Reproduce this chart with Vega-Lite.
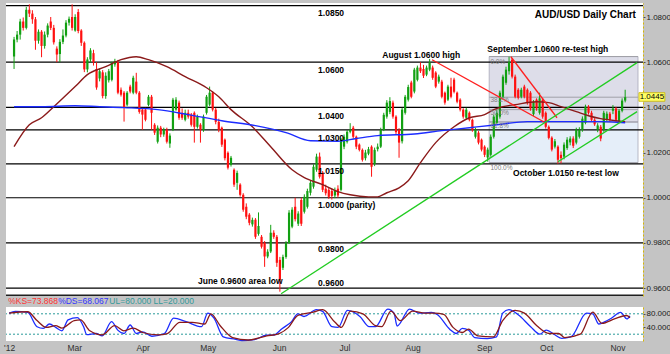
{
"$schema":"https://vega.github.io/schema/vega-lite/v6.json",
"background":"#c4c4c4",
"padding":{"left":3,"top":3,"right":0,"bottom":0},
"config":{"view":{"stroke":null,"fill":"#ffffff"},"font":"Liberation Sans"},
"datasets":{
"candles":[
{"i":0,"o":1.0625,"h":1.0712,"l":1.057,"c":1.07},{"i":1,"o":1.07,"h":1.0738,"l":1.0688,"c":1.0722},{"i":2,"o":1.0722,"h":1.0792,"l":1.07,"c":1.078},{"i":3,"o":1.078,"h":1.0798,"l":1.074,"c":1.0752},{"i":4,"o":1.0752,"h":1.0845,"l":1.0745,"c":1.0832},{"i":5,"o":1.0832,"h":1.0856,"l":1.08,"c":1.0815},{"i":6,"o":1.0815,"h":1.083,"l":1.077,"c":1.079},{"i":7,"o":1.079,"h":1.08,"l":1.0655,"c":1.0695},{"i":8,"o":1.0695,"h":1.0745,"l":1.0682,"c":1.0735},{"i":9,"o":1.0735,"h":1.0742,"l":1.0622,"c":1.0672},
{"i":10,"o":1.0672,"h":1.0736,"l":1.066,"c":1.0722},{"i":11,"o":1.0722,"h":1.0772,"l":1.071,"c":1.0762},{"i":12,"o":1.078,"h":1.08,"l":1.0742,"c":1.0752},{"i":13,"o":1.0752,"h":1.0765,"l":1.0678,"c":1.0688},{"i":14,"o":1.066,"h":1.067,"l":1.06,"c":1.0634},{"i":15,"o":1.0636,"h":1.0702,"l":1.06,"c":1.069},{"i":16,"o":1.069,"h":1.0745,"l":1.068,"c":1.0718},{"i":17,"o":1.0718,"h":1.0786,"l":1.071,"c":1.0775},{"i":18,"o":1.0775,"h":1.0802,"l":1.0762,"c":1.0792},{"i":19,"o":1.08,"h":1.0856,"l":1.074,"c":1.0752},
{"i":20,"o":1.074,"h":1.0812,"l":1.0735,"c":1.08},{"i":21,"o":1.0822,"h":1.0835,"l":1.0728,"c":1.0738},{"i":22,"o":1.074,"h":1.0746,"l":1.0672,"c":1.0686},{"i":23,"o":1.0686,"h":1.0692,"l":1.0556,"c":1.0568},{"i":24,"o":1.0568,"h":1.0622,"l":1.0555,"c":1.0612},{"i":25,"o":1.0612,"h":1.0662,"l":1.06,"c":1.0652},{"i":26,"o":1.064,"h":1.0655,"l":1.0585,"c":1.06},{"i":27,"o":1.057,"h":1.06,"l":1.0478,"c":1.0488},{"i":28,"o":1.0528,"h":1.0572,"l":1.0515,"c":1.056},{"i":29,"o":1.0555,"h":1.0565,"l":1.044,"c":1.045},
{"i":30,"o":1.045,"h":1.0555,"l":1.0438,"c":1.054},{"i":31,"o":1.052,"h":1.057,"l":1.051,"c":1.056},{"i":32,"o":1.0522,"h":1.0602,"l":1.0515,"c":1.0597},{"i":33,"o":1.059,"h":1.0615,"l":1.058,"c":1.0605},{"i":34,"o":1.06,"h":1.061,"l":1.0458,"c":1.0465},{"i":35,"o":1.0478,"h":1.0488,"l":1.0448,"c":1.0456},{"i":36,"o":1.0465,"h":1.0472,"l":1.0337,"c":1.0399},{"i":37,"o":1.0412,"h":1.0472,"l":1.0405,"c":1.0465},{"i":38,"o":1.0492,"h":1.05,"l":1.0462,"c":1.047},{"i":39,"o":1.0465,"h":1.054,"l":1.0458,"c":1.0531},
{"i":40,"o":1.0514,"h":1.0553,"l":1.0458,"c":1.0465},{"i":41,"o":1.0465,"h":1.0472,"l":1.0372,"c":1.038},{"i":42,"o":1.039,"h":1.0395,"l":1.0301,"c":1.0368},{"i":43,"o":1.039,"h":1.0398,"l":1.0338,"c":1.0345},{"i":44,"o":1.0411,"h":1.0455,"l":1.0405,"c":1.0447},{"i":45,"o":1.0447,"h":1.0455,"l":1.0301,"c":1.0376},{"i":46,"o":1.0323,"h":1.033,"l":1.0278,"c":1.0288},{"i":47,"o":1.0248,"h":1.032,"l":1.024,"c":1.031},{"i":48,"o":1.031,"h":1.0318,"l":1.0268,"c":1.028},{"i":49,"o":1.028,"h":1.031,"l":1.027,"c":1.0301},
{"i":50,"o":1.0301,"h":1.031,"l":1.024,"c":1.0248},{"i":51,"o":1.024,"h":1.0285,"l":1.0221,"c":1.0275},{"i":52,"o":1.0301,"h":1.0442,"l":1.0295,"c":1.0434},{"i":53,"o":1.039,"h":1.0445,"l":1.0385,"c":1.0434},{"i":54,"o":1.0421,"h":1.043,"l":1.0345,"c":1.0354},{"i":55,"o":1.0376,"h":1.0395,"l":1.0345,"c":1.0354},{"i":56,"o":1.0345,"h":1.039,"l":1.0338,"c":1.0376},{"i":57,"o":1.0376,"h":1.039,"l":1.035,"c":1.0359},{"i":58,"o":1.0368,"h":1.0375,"l":1.0315,"c":1.0323},{"i":59,"o":1.0376,"h":1.0382,"l":1.0244,"c":1.0314},
{"i":60,"o":1.0314,"h":1.0368,"l":1.0306,"c":1.0359},{"i":61,"o":1.0323,"h":1.033,"l":1.0244,"c":1.0301},{"i":62,"o":1.0301,"h":1.0368,"l":1.0292,"c":1.0359},{"i":63,"o":1.0376,"h":1.0455,"l":1.0368,"c":1.0447},{"i":64,"o":1.0412,"h":1.0492,"l":1.0405,"c":1.0465},{"i":65,"o":1.0465,"h":1.0472,"l":1.0382,"c":1.039},{"i":66,"o":1.039,"h":1.0398,"l":1.0325,"c":1.0336},{"i":67,"o":1.0336,"h":1.035,"l":1.029,"c":1.03},{"i":68,"o":1.031,"h":1.0315,"l":1.0225,"c":1.0235},{"i":69,"o":1.0257,"h":1.0262,"l":1.0165,"c":1.0175},
{"i":70,"o":1.0199,"h":1.0205,"l":1.0125,"c":1.0133},{"i":71,"o":1.0146,"h":1.0185,"l":1.0138,"c":1.0177},{"i":72,"o":1.0124,"h":1.013,"l":1.0048,"c":1.0058},{"i":73,"o":1.0066,"h":1.012,"l":1.0035,"c":1.011},{"i":74,"o":1.0058,"h":1.0064,"l":1.0005,"c":1.0013},{"i":75,"o":1.0013,"h":1.002,"l":0.9938,"c":0.9947},{"i":76,"o":0.996,"h":0.9975,"l":0.9905,"c":0.9916},{"i":77,"o":0.9925,"h":0.9932,"l":0.9878,"c":0.9889},{"i":78,"o":0.9882,"h":0.9912,"l":0.9872,"c":0.9902},{"i":79,"o":0.9903,"h":0.991,"l":0.9818,"c":0.9827},
{"i":80,"o":0.984,"h":0.9935,"l":0.9832,"c":0.9875},{"i":81,"o":0.9827,"h":0.9835,"l":0.9775,"c":0.9783},{"i":82,"o":0.98,"h":0.9808,"l":0.9694,"c":0.974},{"i":83,"o":0.974,"h":0.9772,"l":0.9732,"c":0.9761},{"i":84,"o":0.9762,"h":0.988,"l":0.9755,"c":0.9845},{"i":85,"o":0.9845,"h":0.9856,"l":0.9818,"c":0.9827},{"i":86,"o":0.9827,"h":0.9835,"l":0.9694,"c":0.9712},{"i":87,"o":0.9725,"h":0.9738,"l":0.9584,"c":0.9637},{"i":88,"o":0.969,"h":0.9748,"l":0.968,"c":0.9738},{"i":89,"o":0.9738,"h":0.9808,"l":0.973,"c":0.98},
{"i":90,"o":0.98,"h":0.9945,"l":0.9795,"c":0.9934},{"i":91,"o":0.9872,"h":0.9958,"l":0.9865,"c":0.9947},{"i":92,"o":0.996,"h":1.0,"l":0.9895,"c":0.9905},{"i":93,"o":0.9885,"h":0.994,"l":0.9875,"c":0.993},{"i":94,"o":0.999,"h":1.0,"l":0.9875,"c":0.9885},{"i":95,"o":0.9938,"h":1.0015,"l":0.993,"c":1.0004},{"i":96,"o":0.996,"h":1.004,"l":0.9952,"c":1.003},{"i":97,"o":1.0022,"h":1.0075,"l":1.001,"c":1.0066},{"i":98,"o":1.0049,"h":1.0148,"l":1.004,"c":1.0137},{"i":99,"o":1.0124,"h":1.0195,"l":1.0115,"c":1.0182},
{"i":100,"o":1.0182,"h":1.02,"l":1.0085,"c":1.0093},{"i":101,"o":1.011,"h":1.0118,"l":1.0025,"c":1.0035},{"i":102,"o":1.004,"h":1.0058,"l":1.001,"c":1.002},{"i":103,"o":1.0035,"h":1.0045,"l":0.9995,"c":1.0004},{"i":104,"o":1.003,"h":1.004,"l":0.9992,"c":1.0008},{"i":105,"o":1.001,"h":1.0045,"l":0.9998,"c":1.003},{"i":106,"o":1.004,"h":1.0055,"l":1.0,"c":1.001},{"i":107,"o":1.0035,"h":1.0265,"l":1.0028,"c":1.0257},{"i":108,"o":1.0226,"h":1.028,"l":1.0215,"c":1.027},{"i":109,"o":1.0248,"h":1.03,"l":1.024,"c":1.0292},
{"i":110,"o":1.0292,"h":1.033,"l":1.0285,"c":1.03},{"i":111,"o":1.031,"h":1.0318,"l":1.0262,"c":1.027},{"i":112,"o":1.027,"h":1.0275,"l":1.0215,"c":1.0226},{"i":113,"o":1.0235,"h":1.024,"l":1.0205,"c":1.0212},{"i":114,"o":1.0212,"h":1.0218,"l":1.016,"c":1.0168},{"i":115,"o":1.0175,"h":1.0212,"l":1.0165,"c":1.02},{"i":116,"o":1.0195,"h":1.0225,"l":1.0188,"c":1.0215},{"i":117,"o":1.0226,"h":1.0232,"l":1.0093,"c":1.0137},{"i":118,"o":1.015,"h":1.0222,"l":1.014,"c":1.0212},{"i":119,"o":1.0215,"h":1.024,"l":1.0205,"c":1.0226},
{"i":120,"o":1.0226,"h":1.031,"l":1.022,"c":1.03},{"i":121,"o":1.03,"h":1.0376,"l":1.0295,"c":1.0367},{"i":122,"o":1.0359,"h":1.0432,"l":1.035,"c":1.0421},{"i":123,"o":1.038,"h":1.0445,"l":1.037,"c":1.0428},{"i":124,"o":1.0421,"h":1.043,"l":1.035,"c":1.0359},{"i":125,"o":1.0359,"h":1.0365,"l":1.0282,"c":1.029},{"i":126,"o":1.03,"h":1.0308,"l":1.0177,"c":1.0244},{"i":127,"o":1.025,"h":1.0398,"l":1.024,"c":1.039},{"i":128,"o":1.0376,"h":1.0455,"l":1.0368,"c":1.0447},{"i":129,"o":1.0434,"h":1.05,"l":1.0426,"c":1.049},
{"i":130,"o":1.051,"h":1.0518,"l":1.044,"c":1.0447},{"i":131,"o":1.047,"h":1.0575,"l":1.0462,"c":1.0567},{"i":132,"o":1.0522,"h":1.0585,"l":1.0515,"c":1.0576},{"i":133,"o":1.0576,"h":1.06,"l":1.0552,"c":1.056},{"i":134,"o":1.057,"h":1.0588,"l":1.053,"c":1.054},{"i":135,"o":1.0545,"h":1.0585,"l":1.0538,"c":1.0576},{"i":136,"o":1.0567,"h":1.0614,"l":1.056,"c":1.0598},{"i":137,"o":1.0576,"h":1.0585,"l":1.0522,"c":1.0531},{"i":138,"o":1.0554,"h":1.056,"l":1.0485,"c":1.0492},{"i":139,"o":1.0514,"h":1.0545,"l":1.0505,"c":1.0536},
{"i":140,"o":1.0514,"h":1.0522,"l":1.044,"c":1.0447},{"i":141,"o":1.0465,"h":1.047,"l":1.0412,"c":1.0421},{"i":142,"o":1.0434,"h":1.05,"l":1.0428,"c":1.0492},{"i":143,"o":1.0492,"h":1.0531,"l":1.044,"c":1.0447},{"i":144,"o":1.0523,"h":1.0531,"l":1.0462,"c":1.0469},{"i":145,"o":1.0465,"h":1.047,"l":1.0418,"c":1.0425},{"i":146,"o":1.0434,"h":1.044,"l":1.0382,"c":1.039},{"i":147,"o":1.039,"h":1.0396,"l":1.035,"c":1.0359},{"i":148,"o":1.0354,"h":1.0398,"l":1.0346,"c":1.039},{"i":149,"o":1.0376,"h":1.0382,"l":1.0338,"c":1.0345},
{"i":150,"o":1.0345,"h":1.035,"l":1.0292,"c":1.0301},{"i":151,"o":1.027,"h":1.031,"l":1.0262,"c":1.0301},{"i":152,"o":1.0288,"h":1.0295,"l":1.0236,"c":1.0244},{"i":153,"o":1.0257,"h":1.0262,"l":1.0205,"c":1.0213},{"i":154,"o":1.0226,"h":1.0232,"l":1.018,"c":1.019},{"i":155,"o":1.0178,"h":1.0222,"l":1.016,"c":1.0213},{"i":156,"o":1.019,"h":1.028,"l":1.0182,"c":1.027},{"i":157,"o":1.027,"h":1.0368,"l":1.0262,"c":1.0359},{"i":158,"o":1.0332,"h":1.039,"l":1.0325,"c":1.0376},{"i":159,"o":1.0359,"h":1.0474,"l":1.035,"c":1.0465},
{"i":160,"o":1.0447,"h":1.0545,"l":1.044,"c":1.0536},{"i":161,"o":1.0509,"h":1.058,"l":1.05,"c":1.0567},{"i":162,"o":1.056,"h":1.0624,"l":1.0545,"c":1.06},{"i":163,"o":1.0611,"h":1.0618,"l":1.0528,"c":1.0536},{"i":164,"o":1.0536,"h":1.0545,"l":1.044,"c":1.0447},{"i":165,"o":1.0478,"h":1.0485,"l":1.0435,"c":1.0443},{"i":166,"o":1.0447,"h":1.0487,"l":1.044,"c":1.0478},{"i":167,"o":1.0492,"h":1.05,"l":1.044,"c":1.0447},{"i":168,"o":1.0478,"h":1.0484,"l":1.0412,"c":1.0421},{"i":169,"o":1.0465,"h":1.0472,"l":1.0385,"c":1.0395},
{"i":170,"o":1.037,"h":1.0432,"l":1.0362,"c":1.0425},{"i":171,"o":1.0434,"h":1.044,"l":1.0385,"c":1.0395},{"i":172,"o":1.0376,"h":1.0465,"l":1.0368,"c":1.044},{"i":173,"o":1.0434,"h":1.044,"l":1.035,"c":1.0359},{"i":174,"o":1.0376,"h":1.0382,"l":1.0306,"c":1.0314},{"i":175,"o":1.0314,"h":1.032,"l":1.0258,"c":1.0265},{"i":176,"o":1.0266,"h":1.0272,"l":1.0205,"c":1.0213},{"i":177,"o":1.0226,"h":1.026,"l":1.0218,"c":1.025},{"i":178,"o":1.0226,"h":1.0232,"l":1.015,"c":1.0168},{"i":179,"o":1.019,"h":1.0205,"l":1.0152,"c":1.0175},
{"i":180,"o":1.0182,"h":1.0245,"l":1.017,"c":1.0235},{"i":181,"o":1.022,"h":1.0268,"l":1.0212,"c":1.0257},{"i":182,"o":1.0245,"h":1.0272,"l":1.0232,"c":1.0262},{"i":183,"o":1.0262,"h":1.0272,"l":1.022,"c":1.023},{"i":184,"o":1.0244,"h":1.031,"l":1.0236,"c":1.0301},{"i":185,"o":1.027,"h":1.0312,"l":1.0262,"c":1.0301},{"i":186,"o":1.0301,"h":1.036,"l":1.0292,"c":1.035},{"i":187,"o":1.0332,"h":1.0412,"l":1.0325,"c":1.0403},{"i":188,"o":1.0403,"h":1.041,"l":1.0368,"c":1.0376},{"i":189,"o":1.0376,"h":1.0385,"l":1.0338,"c":1.0345},
{"i":190,"o":1.0345,"h":1.0352,"l":1.0318,"c":1.0325},{"i":191,"o":1.0301,"h":1.033,"l":1.029,"c":1.032},{"i":192,"o":1.0314,"h":1.0322,"l":1.025,"c":1.0262},{"i":193,"o":1.0301,"h":1.0385,"l":1.0292,"c":1.0376},{"i":194,"o":1.0345,"h":1.0382,"l":1.0338,"c":1.0372},{"i":195,"o":1.0372,"h":1.038,"l":1.0336,"c":1.0345},{"i":196,"o":1.0385,"h":1.041,"l":1.037,"c":1.0395},{"i":197,"o":1.0395,"h":1.0402,"l":1.0336,"c":1.0345},{"i":198,"o":1.034,"h":1.0392,"l":1.033,"c":1.0385},{"i":199,"o":1.0385,"h":1.044,"l":1.0378,"c":1.043},
{"i":200,"o":1.043,"h":1.0478,"l":1.0422,"c":1.0445}
],
"ma":[
{"s":"a","i":0,"p":1.0226},{"s":"a","i":5,"p":1.0323},{"s":"a","i":9,"p":1.0354},{"s":"a","i":13,"p":1.0403},{"s":"a","i":20,"p":1.0492},{"s":"a","i":24,"p":1.0545},{"s":"a","i":30,"p":1.058},{"s":"a","i":35,"p":1.0611},{"s":"a","i":40,"p":1.0624},{"s":"a","i":44,"p":1.0611},{"s":"a","i":50,"p":1.058},{"s":"a","i":56,"p":1.0536},{"s":"a","i":63,"p":1.0487},{"s":"a","i":67,"p":1.0447},{"s":"a","i":71,"p":1.039},{"s":"a","i":78,"p":1.0314},{"s":"a","i":84,"p":1.0226},{"s":"a","i":91,"p":1.0124},{"s":"a","i":95,"p":1.0089},{"s":"a","i":101,"p":1.0058},{"s":"a","i":106,"p":1.0027},{"s":"a","i":110,"p":1.0013},{"s":"a","i":116,"p":1.0004},{"s":"a","i":119,"p":1.0004},{"s":"a","i":122,"p":1.0022},{"s":"a","i":126,"p":1.0044},{"s":"a","i":129,"p":1.0075},{"s":"a","i":133,"p":1.0155},{"s":"a","i":138,"p":1.0244},{"s":"a","i":144,"p":1.0314},{"s":"a","i":149,"p":1.0354},{"s":"a","i":154,"p":1.0368},{"s":"a","i":157,"p":1.039},{"s":"a","i":160,"p":1.0403},{"s":"a","i":164,"p":1.0412},{"s":"a","i":171,"p":1.0425},{"s":"a","i":175,"p":1.0421},{"s":"a","i":179,"p":1.0403},{"s":"a","i":184,"p":1.0381},{"s":"a","i":188,"p":1.0363},{"s":"a","i":192,"p":1.035},{"s":"a","i":197,"p":1.0341},{"s":"a","i":200,"p":1.0337},
{"s":"b","i":0,"p":1.0403},{"s":"b","i":9,"p":1.0403},{"s":"b","i":20,"p":1.0407},{"s":"b","i":28,"p":1.0403},{"s":"b","i":36,"p":1.0399},{"s":"b","i":47,"p":1.039},{"s":"b","i":57,"p":1.0368},{"s":"b","i":68,"p":1.0341},{"s":"b","i":79,"p":1.0319},{"s":"b","i":89,"p":1.0288},{"s":"b","i":97,"p":1.0252},{"s":"b","i":106,"p":1.025},{"s":"b","i":112,"p":1.0262},{"s":"b","i":119,"p":1.0275},{"s":"b","i":131,"p":1.0282},{"s":"b","i":140,"p":1.0297},{"s":"b","i":149,"p":1.031},{"s":"b","i":158,"p":1.0323},{"s":"b","i":168,"p":1.0337},{"s":"b","i":181,"p":1.0337},{"s":"b","i":192,"p":1.0337},{"s":"b","i":200,"p":1.0332}
],
"levels":[{"p":1.085},{"p":1.06},{"p":1.04},{"p":1.03},{"p":1.015},{"p":1.0},{"p":0.98},{"p":0.96}],
"frame":[{"p":0.9568}],
"fibbox":[{"i":155.5,"i2":204.2,"p":1.0335,"p2":1.0625,"f":"#dddde9"},{"i":155.5,"i2":204.2,"p":1.0155,"p2":1.0335,"f":"#e5eef9"}],
"fiblines":[{"i":155.5,"i2":204.2,"p":1.0625},{"i":155.5,"i2":204.2,"p":1.0445},{"i":155.5,"i2":204.2,"p":1.039},{"i":155.5,"i2":204.2,"p":1.0335},{"i":155.5,"i2":204.2,"p":1.0155}],
"fiblabels":[{"i":155.9,"p":1.0602,"t":"0.0%"},{"i":155.9,"p":1.0434,"t":"38.2%"},{"i":155.9,"p":1.0376,"t":"50.0%"},{"i":155.9,"p":1.0319,"t":"61.8%"},{"i":155.9,"p":1.0133,"t":"100.0%"}],
"trend":[{"i":136.8,"p":1.0611,"i2":173.9,"p2":1.0332,"col":"#ff2020"},{"i":162.6,"p":1.0624,"i2":177.7,"p2":1.0354,"col":"#ff2020"},{"i":87.4,"p":0.9575,"i2":203.9,"p2":1.0598,"col":"#22cc22"},{"i":178,"p":1.0159,"i2":203.9,"p2":1.0381,"col":"#22cc22"}],
"labels":[{"i":99.5,"p":1.0819,"t":"1.0850"},{"i":99.5,"p":1.0567,"t":"1.0600"},{"i":99.5,"p":1.0363,"t":"1.0400"},{"i":99.5,"p":1.0266,"t":"1.0300"},{"i":99.5,"p":1.012,"t":"1.0150"},{"i":99.5,"p":0.9969,"t":"1.0000 (parity)"},{"i":99.5,"p":0.9774,"t":"0.9800"},{"i":99.5,"p":0.9624,"t":"0.9600"},{"i":60.2,"p":0.9632,"t":"June 0.9600 area low"},{"i":120.5,"p":1.0633,"t":"August 1.0600 high"},{"i":154.9,"p":1.066,"t":"September 1.0600 re-test high"},{"i":163.3,"p":1.0111,"t":"October 1.0150 re-test low"}],
"title":[{"i":170.4,"p":1.081,"t":"AUD/USD Daily Chart"}],
"tag":[{"i":204.5,"i2":213,"p":1.0427,"p2":1.0465,"t":"1.0445","im":208.75,"pm":1.0446}],
"stoch":[
{"s":"K","i":0,"v":82},{"s":"K","i":2,"v":87},{"s":"K","i":6,"v":84},{"s":"K","i":9,"v":42},{"s":"K","i":11,"v":37},{"s":"K","i":13,"v":50},{"s":"K","i":15,"v":40},{"s":"K","i":17,"v":30},{"s":"K","i":19,"v":62},{"s":"K","i":22,"v":69},{"s":"K","i":24,"v":42},{"s":"K","i":25,"v":19},{"s":"K","i":28,"v":22},{"s":"K","i":30,"v":15},{"s":"K","i":33,"v":57},{"s":"K","i":35,"v":32},{"s":"K","i":37,"v":22},{"s":"K","i":39,"v":47},{"s":"K","i":41,"v":22},{"s":"K","i":43,"v":27},{"s":"K","i":46,"v":14},{"s":"K","i":50,"v":22},{"s":"K","i":53,"v":67},{"s":"K","i":57,"v":57},{"s":"K","i":62,"v":42},{"s":"K","i":64,"v":82},{"s":"K","i":66,"v":67},{"s":"K","i":69,"v":12},{"s":"K","i":73,"v":5},{"s":"K","i":75,"v":1},{"s":"K","i":79,"v":4},{"s":"K","i":83,"v":17},{"s":"K","i":85,"v":17},{"s":"K","i":88,"v":37},{"s":"K","i":91,"v":57},{"s":"K","i":93,"v":80},{"s":"K","i":95,"v":72},{"s":"K","i":99,"v":92},{"s":"K","i":101,"v":87},{"s":"K","i":104,"v":42},{"s":"K","i":106,"v":40},{"s":"K","i":109,"v":90},{"s":"K","i":113,"v":72},{"s":"K","i":116,"v":42},{"s":"K","i":118,"v":42},{"s":"K","i":122,"v":94},{"s":"K","i":124,"v":82},{"s":"K","i":125,"v":44},{"s":"K","i":129,"v":94},{"s":"K","i":132,"v":82},{"s":"K","i":136,"v":84},{"s":"K","i":138,"v":77},{"s":"K","i":142,"v":34},{"s":"K","i":144,"v":22},{"s":"K","i":146,"v":37},{"s":"K","i":148,"v":32},{"s":"K","i":150,"v":10},{"s":"K","i":154,"v":7},{"s":"K","i":157,"v":12},{"s":"K","i":159,"v":82},{"s":"K","i":161,"v":92},{"s":"K","i":164,"v":77},{"s":"K","i":168,"v":42},{"s":"K","i":171,"v":20},{"s":"K","i":173,"v":32},{"s":"K","i":176,"v":17},{"s":"K","i":178,"v":8},{"s":"K","i":181,"v":12},{"s":"K","i":186,"v":82},{"s":"K","i":188,"v":80},{"s":"K","i":190,"v":50},{"s":"K","i":192,"v":57},{"s":"K","i":194,"v":67},{"s":"K","i":197,"v":84},{"s":"K","i":199,"v":65},{"s":"K","i":200,"v":74},
{"s":"D","i":0,"v":82},{"s":"D","i":6,"v":86},{"s":"D","i":9,"v":60},{"s":"D","i":12,"v":40},{"s":"D","i":15,"v":45},{"s":"D","i":17,"v":38},{"s":"D","i":21,"v":60},{"s":"D","i":23,"v":62},{"s":"D","i":26,"v":30},{"s":"D","i":30,"v":18},{"s":"D","i":34,"v":45},{"s":"D","i":37,"v":30},{"s":"D","i":40,"v":38},{"s":"D","i":43,"v":25},{"s":"D","i":48,"v":18},{"s":"D","i":51,"v":22},{"s":"D","i":55,"v":55},{"s":"D","i":59,"v":55},{"s":"D","i":63,"v":50},{"s":"D","i":65,"v":80},{"s":"D","i":68,"v":45},{"s":"D","i":72,"v":10},{"s":"D","i":77,"v":3},{"s":"D","i":83,"v":15},{"s":"D","i":87,"v":22},{"s":"D","i":90,"v":40},{"s":"D","i":93,"v":75},{"s":"D","i":98,"v":85},{"s":"D","i":101,"v":92},{"s":"D","i":105,"v":55},{"s":"D","i":107,"v":40},{"s":"D","i":110,"v":88},{"s":"D","i":114,"v":80},{"s":"D","i":118,"v":45},{"s":"D","i":120,"v":42},{"s":"D","i":123,"v":88},{"s":"D","i":126,"v":60},{"s":"D","i":130,"v":88},{"s":"D","i":134,"v":82},{"s":"D","i":137,"v":82},{"s":"D","i":140,"v":78},{"s":"D","i":143,"v":40},{"s":"D","i":146,"v":25},{"s":"D","i":148,"v":35},{"s":"D","i":151,"v":15},{"s":"D","i":156,"v":12},{"s":"D","i":159,"v":60},{"s":"D","i":163,"v":90},{"s":"D","i":166,"v":82},{"s":"D","i":170,"v":45},{"s":"D","i":174,"v":22},{"s":"D","i":177,"v":22},{"s":"D","i":179,"v":10},{"s":"D","i":184,"v":20},{"s":"D","i":188,"v":85},{"s":"D","i":191,"v":52},{"s":"D","i":195,"v":65},{"s":"D","i":199,"v":75},{"s":"D","i":200,"v":68}
],
"stochlevels":[{"v":80},{"v":20}],
"header":[{"i":-0.3,"v":117,"t":"%KS=73.868","col":"#ff3333"},{"i":15.8,"v":117,"t":"%DS=68.067","col":"#3333ff"},{"i":32.3,"v":117,"t":"UL=80.000 LL=20.000","col":"#339999"}]
},
"vconcat":[
{
"width":637,"height":293,
"layer":[
{"data":{"name":"fibbox"},"mark":{"type":"rect","stroke":"#a8a8b8","strokeWidth":0.8},
 "encoding":{"x":{"field":"i","type":"quantitative","scale":{"domain":[-1,204.2],"nice":false,"zero":false},"axis":null},"x2":{"field":"i2"},
 "y":{"field":"p","type":"quantitative","scale":{"domain":[0.9565,1.0862],"nice":false,"zero":false},"axis":{"orient":"right","values":[0.96,0.97,0.98,0.99,1,1.01,1.02,1.03,1.04,1.05,1.06,1.07,1.08],"format":".4f","title":null,"grid":false,"labelFont":"Liberation Sans","labelFontSize":8,"labelColor":"#202020","tickSize":2,"tickColor":"#505050","labelPadding":1,"domainColor":"#d8b800","domainDash":[2,2],"minExtent":29,"maxExtent":29}},
 "y2":{"field":"p2"},"fill":{"field":"f","type":"nominal","scale":null}}},
{"data":{"name":"fiblines"},"mark":{"type":"rule","color":"#a0a0a8","strokeWidth":1},
 "encoding":{"x":{"field":"i","type":"quantitative","scale":{"domain":[-1,204.2],"nice":false,"zero":false},"axis":null},"x2":{"field":"i2"},"y":{"field":"p","type":"quantitative","scale":{"domain":[0.9565,1.0862],"nice":false,"zero":false}}}},
{"data":{"name":"levels"},"mark":{"type":"rule","color":"#000000","strokeWidth":1.2},
 "encoding":{"y":{"field":"p","type":"quantitative","scale":{"domain":[0.9565,1.0862],"nice":false,"zero":false}}}},
{"data":{"name":"frame"},"mark":{"type":"rule","color":"#202020","strokeWidth":1.5},
 "encoding":{"y":{"field":"p","type":"quantitative","scale":{"domain":[0.9565,1.0862],"nice":false,"zero":false}}}},
{"data":{"name":"candles"},"mark":{"type":"rule","strokeWidth":1},
 "encoding":{"x":{"field":"i","type":"quantitative","scale":{"domain":[-1,204.2],"nice":false,"zero":false},"axis":null},"y":{"field":"l","type":"quantitative","scale":{"domain":[0.9565,1.0862],"nice":false,"zero":false}},"y2":{"field":"h"},
 "color":{"condition":{"test":"datum.c >= datum.o","value":"#12a012"},"value":"#ff1010"}}},
{"data":{"name":"candles"},"mark":{"type":"bar","size":2.2},
 "encoding":{"x":{"field":"i","type":"quantitative","scale":{"domain":[-1,204.2],"nice":false,"zero":false},"axis":null},"y":{"field":"o","type":"quantitative","scale":{"domain":[0.9565,1.0862],"nice":false,"zero":false}},"y2":{"field":"c"},
 "color":{"condition":{"test":"datum.c >= datum.o","value":"#12a012"},"value":"#ff1010"}}},
{"data":{"name":"ma"},"mark":{"type":"line","interpolate":"monotone","strokeWidth":1.4},
 "encoding":{"x":{"field":"i","type":"quantitative","scale":{"domain":[-1,204.2],"nice":false,"zero":false},"axis":null},"y":{"field":"p","type":"quantitative","scale":{"domain":[0.9565,1.0862],"nice":false,"zero":false}},
 "color":{"field":"s","type":"nominal","scale":{"domain":["a","b"],"range":["#8b1a1a","#1c2cff"]},"legend":null}}},
{"data":{"name":"trend"},"mark":{"type":"rule","strokeWidth":1.3},
 "encoding":{"x":{"field":"i","type":"quantitative","scale":{"domain":[-1,204.2],"nice":false,"zero":false},"axis":null},"x2":{"field":"i2"},"y":{"field":"p","type":"quantitative","scale":{"domain":[0.9565,1.0862],"nice":false,"zero":false}},"y2":{"field":"p2"},
 "color":{"field":"col","type":"nominal","scale":null}}},
{"data":{"name":"fiblabels"},"mark":{"type":"text","align":"left","baseline":"middle","fontSize":6.5,"color":"#808080"},
 "encoding":{"x":{"field":"i","type":"quantitative","scale":{"domain":[-1,204.2],"nice":false,"zero":false},"axis":null},"y":{"field":"p","type":"quantitative","scale":{"domain":[0.9565,1.0862],"nice":false,"zero":false}},"text":{"field":"t"}}},
{"data":{"name":"labels"},"mark":{"type":"text","align":"left","baseline":"middle","fontSize":8.5,"fontWeight":"bold","color":"#000000"},
 "encoding":{"x":{"field":"i","type":"quantitative","scale":{"domain":[-1,204.2],"nice":false,"zero":false},"axis":null},"y":{"field":"p","type":"quantitative","scale":{"domain":[0.9565,1.0862],"nice":false,"zero":false}},"text":{"field":"t"}}},
{"data":{"name":"title"},"mark":{"type":"text","align":"left","baseline":"middle","fontSize":10,"fontWeight":"bold","color":"#000000"},
 "encoding":{"x":{"field":"i","type":"quantitative","scale":{"domain":[-1,204.2],"nice":false,"zero":false},"axis":null},"y":{"field":"p","type":"quantitative","scale":{"domain":[0.9565,1.0862],"nice":false,"zero":false}},"text":{"field":"t"}}},
{"data":{"name":"tag"},"mark":{"type":"rect","fill":"#ffff66","stroke":"#c8b400","strokeWidth":0.8},
 "encoding":{"x":{"field":"i","type":"quantitative","scale":{"domain":[-1,204.2],"nice":false,"zero":false},"axis":null},"x2":{"field":"i2"},"y":{"field":"p","type":"quantitative","scale":{"domain":[0.9565,1.0862],"nice":false,"zero":false}},"y2":{"field":"p2"}}},
{"data":{"name":"tag"},"mark":{"type":"text","align":"center","baseline":"middle","fontSize":8,"color":"#000000"},
 "encoding":{"x":{"field":"im","type":"quantitative","scale":{"domain":[-1,204.2],"nice":false,"zero":false},"axis":null},"y":{"field":"pm","type":"quantitative","scale":{"domain":[0.9565,1.0862],"nice":false,"zero":false}},"text":{"field":"t"}}}
]
},
{
"width":637,"height":34,
"layer":[
{"data":{"name":"stochlevels"},"mark":{"type":"rule","color":"#2a9a9a","strokeDash":[2,2],"strokeWidth":1},
 "encoding":{"y":{"field":"v","type":"quantitative","scale":{"domain":[0,100],"nice":false,"zero":false},"axis":{"orient":"right","values":[40,80],"format":".3f","title":null,"grid":false,"labelFont":"Liberation Sans","labelFontSize":8,"labelColor":"#202020","tickSize":2,"tickColor":"#505050","labelPadding":1,"domainColor":"#d8b800","domainDash":[2,2],"minExtent":29,"maxExtent":29}}}},
{"data":{"name":"stoch"},"mark":{"type":"line","interpolate":"monotone","strokeWidth":1.3},
 "encoding":{"x":{"field":"i","type":"quantitative","scale":{"domain":[-1,204.2],"nice":false,"zero":false},"axis":{"values":[0,21,43,64,87,108,130,153,173,196],"labelExpr":"[\"'12\",\"Mar\",\"Apr\",\"May\",\"Jun\",\"Jul\",\"Aug\",\"Sep\",\"Oct\",\"Nov\"][indexof([0,21,43,64,87,108,130,153,173,196],datum.value)]","ticks":false,"domain":false,"grid":false,"title":null,"labelFont":"Liberation Sans","labelFontSize":8.5,"labelColor":"#303030","labelPadding":2,"labelFlush":false,"labelOverlap":false,"minExtent":13,"maxExtent":13}},
 "y":{"field":"v","type":"quantitative","scale":{"domain":[0,100],"nice":false,"zero":false}},
 "color":{"field":"s","type":"nominal","scale":{"domain":["D","K"],"range":["#2020ff","#ff2020"]},"legend":null}}},
{"data":{"name":"header"},"mark":{"type":"text","align":"left","baseline":"middle","fontSize":8.5},
 "encoding":{"x":{"field":"i","type":"quantitative","scale":{"domain":[-1,204.2],"nice":false,"zero":false}},"y":{"field":"v","type":"quantitative","scale":{"domain":[0,100],"nice":false,"zero":false}},"text":{"field":"t"},"color":{"field":"col","type":"nominal","scale":null}}}
]
}
],
"spacing":11,
"bounds":"flush"
}
